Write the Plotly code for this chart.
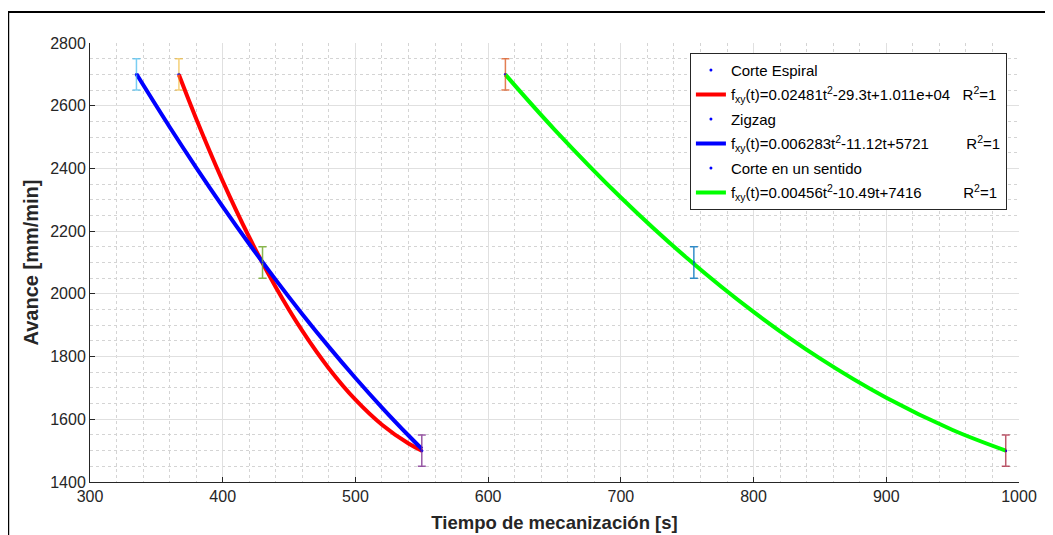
import plotly.graph_objects as go

# ---- data ----
# measured points (time [s], feed [mm/min])
espiral_t = [367, 430, 550]
espiral_v = [2700, 2100, 1500]
zigzag_t = [335, 430, 550]
zigzag_v = [2700, 2100, 1500]
sentido_t = [613, 755, 990]
sentido_v = [2700, 2100, 1500]
error_half = 50

# fitted curves
fit_espiral_t = [367, 380, 400, 420, 440, 460, 480, 500, 520, 540, 550]
fit_espiral_v = [2698.5, 2558.6, 2359.6, 2180.5, 2021.2, 1881.8, 1762.2, 1662.5, 1582.6, 1522.6, 1500.0]
fit_zigzag_t = [335, 360, 380, 400, 420, 440, 460, 480, 500, 520, 540, 550]
fit_zigzag_v = [2700.9, 2532.1, 2402.7, 2278.3, 2158.9, 2044.6, 1935.3, 1831.0, 1731.8, 1637.5, 1548.3, 1505.6]
fit_sentido_t = [613, 650, 700, 750, 800, 850, 900, 950, 990]
fit_sentido_v = [2699.1, 2524.1, 2307.4, 2113.5, 1942.4, 1794.1, 1668.6, 1565.9, 1500.2]

# error-bar points and their colours
eb_t = [335, 367, 430, 550, 613, 755, 990]
eb_v = [2700, 2700, 2100, 1500, 2700, 2100, 1500]
eb_colors = ["rgba(77,190,238,0.75)", "rgba(237,177,32,0.6)", "rgba(119,172,48,0.85)",
             "rgba(126,47,142,0.8)", "rgba(217,83,25,0.75)", "rgba(0,114,189,0.8)",
             "rgba(162,20,47,0.7)"]

names = [
    "Corte Espiral",
    "f<sub>xy</sub>(t)=0.02481t<sup>2</sup>-29.3t+1.011e+04" + "&nbsp;" * 3 + "R<sup>2</sup>=1",
    "Zigzag",
    "f<sub>xy</sub>(t)=0.006283t<sup>2</sup>-11.12t+5721" + "&nbsp;" * 9 + "R<sup>2</sup>=1",
    "Corte en un sentido",
    "f<sub>xy</sub>(t)=0.00456t<sup>2</sup>-10.49t+7416" + "&nbsp;" * 10 + "R<sup>2</sup>=1",
]

FONT = "Liberation Sans, Arial, Helvetica, sans-serif"
fig = go.Figure()

groups = [
    (espiral_t, espiral_v, fit_espiral_t, fit_espiral_v, "#FF0000"),
    (zigzag_t, zigzag_v, fit_zigzag_t, fit_zigzag_v, "#0000FF"),
    (sentido_t, sentido_v, fit_sentido_t, fit_sentido_v, "#00FF00"),
]
for i, (pt, pv, ft, fv, col) in enumerate(groups):
    fig.add_trace(go.Scatter(x=pt, y=pv, mode="markers", name=names[2 * i],
                             legendgroup=f"g{2 * i}",
                             marker=dict(color="#0000FF", size=3)))
    fig.add_trace(go.Scatter(x=ft, y=fv, mode="lines", name=names[2 * i + 1],
                             legendgroup=f"g{2 * i + 1}",
                             line=dict(color=col, width=4, shape="spline")))

for t, v, c in zip(eb_t, eb_v, eb_colors):
    fig.add_trace(go.Scatter(x=[t], y=[v], mode="markers", showlegend=False,
                             marker=dict(size=1, color="#0000FF"),
                             error_y=dict(type="constant", value=error_half, color=c,
                                          thickness=1.5, width=4)))

axis_common = dict(
    showline=True, linecolor="#262626", linewidth=1, mirror=False,
    ticks="inside", ticklen=5, tickcolor="#262626",
    tickfont=dict(family=FONT, size=16, color="#262626"),
    showgrid=True, gridcolor="#e0e0e0", gridwidth=1, zeroline=False,
    automargin=False,
)

W, H = 1045, 527
fig.update_layout(
    width=W, height=H,
    margin=dict(l=82, r=34, t=35, b=53),
    paper_bgcolor="white", plot_bgcolor="white",
    font=dict(family=FONT, color="#262626"),
    xaxis=dict(range=[300, 1000], dtick=100,
               minor=dict(dtick=20, showgrid=True, gridcolor="#d4d4d4", griddash="dot", ticks=""),
               title=dict(text="<b>Tiempo de mecanización [s]</b>",
                          font=dict(family=FONT, size=18.5, color="#262626"), standoff=11),
               **axis_common),
    yaxis=dict(range=[1400, 2800], dtick=200,
               minor=dict(dtick=50, showgrid=True, gridcolor="#d4d4d4", griddash="dot", ticks=""),
               title=dict(text="<b>Avance [mm/min]</b>",
                          font=dict(family=FONT, size=20, color="#262626"), standoff=6),
               **axis_common),
    legend=dict(x=0.987, y=0.978, xanchor="right", yanchor="top",
                bgcolor="white", bordercolor="#262626", borderwidth=1,
                font=dict(family=FONT, size=15, color="black"),
                traceorder="grouped", tracegroupgap=2, itemwidth=30),
    shapes=[
        dict(type="line", xref="paper", yref="paper", x0=-0.0883, x1=-0.0883,
             y0=-0.14, y1=1.0706, line=dict(color="black", width=2.5)),
        dict(type="line", xref="paper", yref="paper", x0=-0.0883, x1=1.0344,
             y0=1.0706, y1=1.0706, line=dict(color="black", width=2)),
        dict(type="line", xref="paper", yref="paper", x0=1.0344, x1=1.0344,
             y0=-0.14, y1=1.0706, line=dict(color="#707070", width=1.5)),
    ],
)

fig.write_html("out.html")
